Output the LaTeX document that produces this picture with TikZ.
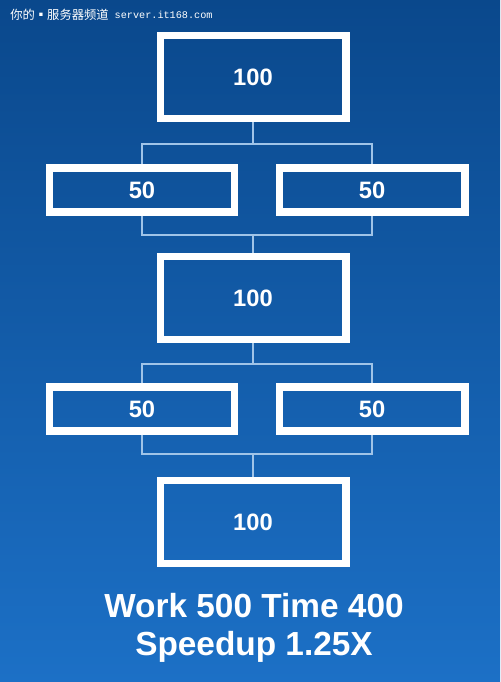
\documentclass[tikz,border=0pt]{standalone}
\usepackage{fontspec}
\setmainfont{Liberation Sans}
\newfontfamily\cjkschrift{Noto Sans CJK SC}
\newfontfamily\monoschrift{Liberation Mono}
\usetikzlibrary{positioning}

\definecolor{blauoben}{RGB}{10,72,140}
\definecolor{blaumitte}{RGB}{12,86,166}
\definecolor{blauunten}{RGB}{28,112,198}
\definecolor{linienblau}{RGB}{160,196,232}

\tikzset{
    kasten/.style={draw=white, line width=4pt, inner sep=0pt, font=\fontsize{13.5}{16}\selectfont\bfseries, text=white},
    grosskasten/.style={kasten, minimum width=3.72cm, minimum height=1.66cm},
    kleinkasten/.style={kasten, minimum width=3.72cm, minimum height=0.88cm},
    verbindung/.style={draw=linienblau, line width=0.6pt}
}

\begin{document}
\begin{tikzpicture}[x=0.02cm, y=-0.02cm]

        % Hintergrund
        \shade [top color=blauoben, middle color=blaumitte, bottom color=blauunten] (0,0) rectangle (500,682);
        \useasboundingbox (0,0) rectangle (500,682);

        % Kopfzeile
        \node [anchor=west, inner sep=0pt, text=white, font=\fontsize{7}{9}\cjkschrift] (kopf) at (10,15) {你的▪服务器频道};
        \node [right=3pt of kopf, inner sep=0pt, text=white, font=\fontsize{5.8}{8}\monoschrift] (adresse) {server.it168.com};

        % Kaesten
        \node [grosskasten] (oben) at (253,77) {100};
        \node [kleinkasten] (links1) at (142,190) {50};
        \node [kleinkasten] (rechts1) at (372,190) {50};
        \node [grosskasten] (mitte) at (253,298) {100};
        \node [kleinkasten] (links2) at (142,409) {50};
        \node [kleinkasten] (rechts2) at (372,409) {50};
        \node [grosskasten] (unten) at (253,522) {100};

        % Verbindungen
        \draw [verbindung] (oben.south) -- ++(0,22) coordinate (gabel1);
        \draw [verbindung] (links1.north) |- (gabel1) -| (rechts1.north);
        \draw [verbindung] (mitte.north) -- ++(0,-18) coordinate (gabel2);
        \draw [verbindung] (links1.south) |- (gabel2) -| (rechts1.south);
        \draw [verbindung] (mitte.south) -- ++(0,21) coordinate (gabel3);
        \draw [verbindung] (links2.north) |- (gabel3) -| (rechts2.north);
        \draw [verbindung] (unten.north) -- ++(0,-23) coordinate (gabel4);
        \draw [verbindung] (links2.south) |- (gabel4) -| (rechts2.south);

        % Ergebnis
        \node [text=white, font=\fontsize{19}{22}\selectfont\bfseries] (arbeit) at (254,606) {Work 500 Time 400};
        \node [text=white, font=\fontsize{19}{22}\selectfont\bfseries] (speedup) at (254,647) {Speedup 1.25X};

\end{tikzpicture}
\end{document}
